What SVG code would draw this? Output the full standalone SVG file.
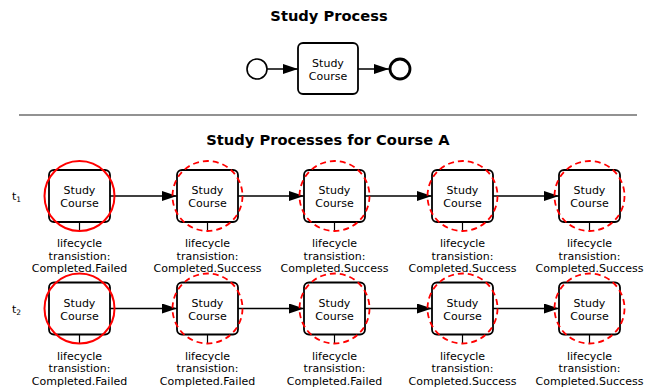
<svg xmlns="http://www.w3.org/2000/svg" width="664" height="391" viewBox="0 0 664 391">
<style>
text{font-family:"DejaVu Sans","Liberation Sans",sans-serif;fill:#000}
.title{font-size:14.67px;font-weight:bold;text-anchor:middle}
.tb{font-size:11px;text-anchor:middle}
.lbl{font-size:11px;text-anchor:middle}
.task{fill:#fff;stroke:#000;stroke-width:1.8}
.conn{stroke:#000;stroke-width:1.5;fill:none;marker-end:url(#arr)}
.stem{stroke:#000;stroke-width:1.2}
.hl{fill:none;stroke:#f00;stroke-width:2}
.hld{fill:none;stroke:#f00;stroke-width:1.8;stroke-dasharray:6 4}
</style>
<defs>
<marker id="arr" markerUnits="userSpaceOnUse" markerWidth="16" markerHeight="12" refX="15" refY="5" orient="auto">
<path d="M0,0 L15,5 L0,10 z" fill="#000"/>
</marker>
<g id="task">
<rect class="task" x="0" y="0" width="61" height="52" rx="5"/>
<text class="tb" x="30.5" y="24">Study</text>
<text class="tb" x="30.5" y="37">Course</text>
<line class="stem" x1="30.5" y1="52" x2="30.5" y2="61"/>
</g>
</defs>
<rect width="664" height="391" fill="#fff"/>
<text class="title" x="329" y="20.5">Study Process</text>
<g id="connectors-top">
<line class="conn" x1="267" y1="69" x2="298" y2="69"/>
<line class="conn" x1="358" y1="69" x2="389" y2="69"/>
</g>
<g id="start"><circle cx="257" cy="69" r="10" fill="#fff" stroke="#000" stroke-width="1.6"/></g>
<g id="study-course"><rect class="task" x="298" y="43" width="60" height="51" rx="5"/>
<text class="tb" x="328" y="67">Study</text><text class="tb" x="328" y="80">Course</text></g>
<g id="end"><circle cx="400" cy="69" r="10" fill="#fff" stroke="#000" stroke-width="2.8"/></g>
<line x1="19" y1="115" x2="637" y2="115" stroke="#6e6e6e" stroke-width="1.6"/>
<text class="title" x="328" y="145">Study Processes for Course A</text>
<text x="12" y="200" style="font-size:11px">t<tspan dy="2" style="font-size:7.5px">1</tspan></text>
<text x="12" y="312.5" style="font-size:11px">t<tspan dy="2" style="font-size:7.5px">2</tspan></text>
<g id="connectors">
<line class="conn" x1="110" y1="196" x2="177" y2="196"/>
<line class="conn" x1="238" y1="196" x2="304" y2="196"/>
<line class="conn" x1="365" y1="196" x2="432" y2="196"/>
<line class="conn" x1="493" y1="196" x2="559" y2="196"/>
<line class="conn" x1="110" y1="308.5" x2="177" y2="308.5"/>
<line class="conn" x1="238" y1="308.5" x2="304" y2="308.5"/>
<line class="conn" x1="365" y1="308.5" x2="432" y2="308.5"/>
<line class="conn" x1="493" y1="308.5" x2="559" y2="308.5"/>
</g>
<g id="r1n1"><use href="#task" x="49" y="170"/><circle class="hl" cx="79.5" cy="196" r="35"/>
<text class="lbl" x="79.5" y="247">lifecycle</text><text class="lbl" x="79.5" y="259.5">transistion:</text><text class="lbl" x="79.5" y="272">Completed.Failed</text></g>
<g id="r1n2"><use href="#task" x="177" y="170"/><circle class="hld" cx="207.5" cy="196" r="35"/>
<text class="lbl" x="207.5" y="247">lifecycle</text><text class="lbl" x="207.5" y="259.5">transistion:</text><text class="lbl" x="207.5" y="272">Completed.Success</text></g>
<g id="r1n3"><use href="#task" x="304" y="170"/><circle class="hld" cx="334.5" cy="196" r="35"/>
<text class="lbl" x="334.5" y="247">lifecycle</text><text class="lbl" x="334.5" y="259.5">transistion:</text><text class="lbl" x="334.5" y="272">Completed.Success</text></g>
<g id="r1n4"><use href="#task" x="432" y="170"/><circle class="hld" cx="462.5" cy="196" r="35"/>
<text class="lbl" x="462.5" y="247">lifecycle</text><text class="lbl" x="462.5" y="259.5">transistion:</text><text class="lbl" x="462.5" y="272">Completed.Success</text></g>
<g id="r1n5"><use href="#task" x="559" y="170"/><circle class="hld" cx="589.5" cy="196" r="35"/>
<text class="lbl" x="589.5" y="247">lifecycle</text><text class="lbl" x="589.5" y="259.5">transistion:</text><text class="lbl" x="589.5" y="272">Completed.Success</text></g>
<g id="r2n1"><use href="#task" x="49" y="282.5"/><circle class="hl" cx="79.5" cy="308.5" r="35"/>
<text class="lbl" x="79.5" y="359.5">lifecycle</text><text class="lbl" x="79.5" y="372">transistion:</text><text class="lbl" x="79.5" y="384.5">Completed.Failed</text></g>
<g id="r2n2"><use href="#task" x="177" y="282.5"/><circle class="hld" cx="207.5" cy="308.5" r="35"/>
<text class="lbl" x="207.5" y="359.5">lifecycle</text><text class="lbl" x="207.5" y="372">transistion:</text><text class="lbl" x="207.5" y="384.5">Completed.Failed</text></g>
<g id="r2n3"><use href="#task" x="304" y="282.5"/><circle class="hld" cx="334.5" cy="308.5" r="35"/>
<text class="lbl" x="334.5" y="359.5">lifecycle</text><text class="lbl" x="334.5" y="372">transistion:</text><text class="lbl" x="334.5" y="384.5">Completed.Failed</text></g>
<g id="r2n4"><use href="#task" x="432" y="282.5"/><circle class="hld" cx="462.5" cy="308.5" r="35"/>
<text class="lbl" x="462.5" y="359.5">lifecycle</text><text class="lbl" x="462.5" y="372">transistion:</text><text class="lbl" x="462.5" y="384.5">Completed.Success</text></g>
<g id="r2n5"><use href="#task" x="559" y="282.5"/><circle class="hld" cx="589.5" cy="308.5" r="35"/>
<text class="lbl" x="589.5" y="359.5">lifecycle</text><text class="lbl" x="589.5" y="372">transistion:</text><text class="lbl" x="589.5" y="384.5">Completed.Success</text></g>
</svg>
